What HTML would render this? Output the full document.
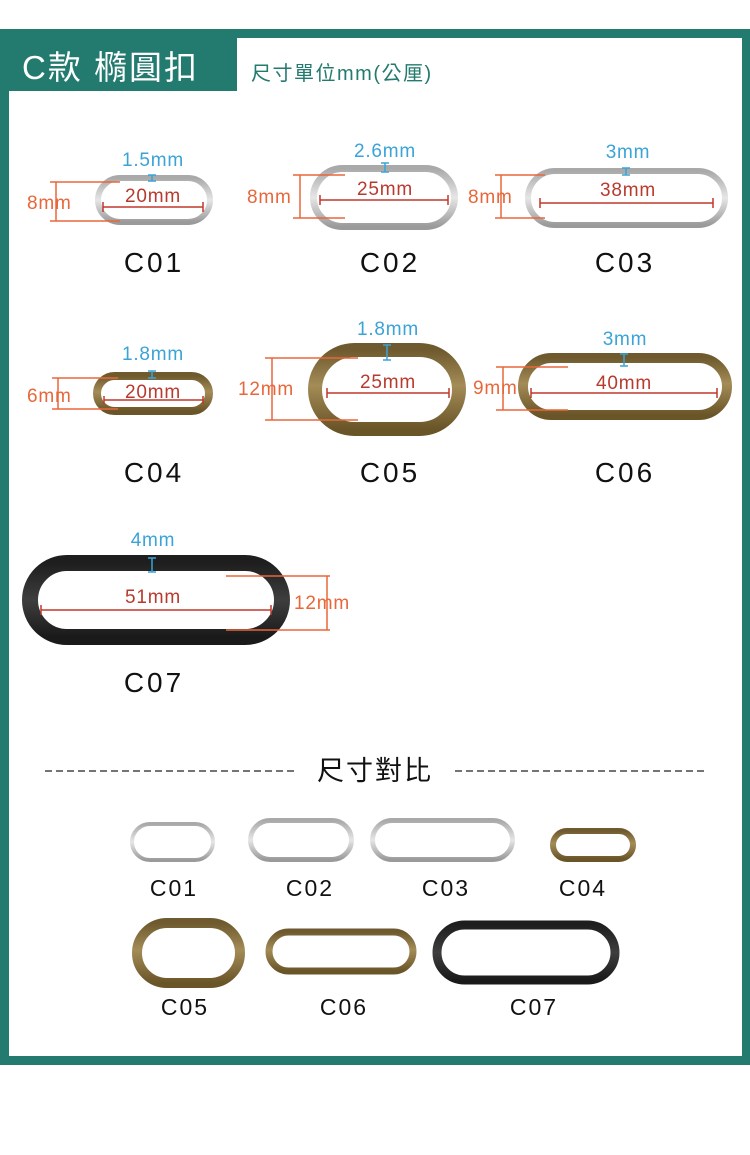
<!DOCTYPE html>
<html><head><meta charset="utf-8"><style>
body{margin:0;width:750px;height:1150px;background:#fff;overflow:hidden}
svg text{font-family:"Liberation Sans","Noto Sans CJK TC",sans-serif}
</style></head><body>
<svg width="750" height="1150" viewBox="0 0 750 1150" xmlns="http://www.w3.org/2000/svg">
<defs>
<linearGradient id="sv" x1="0" y1="0" x2="0" y2="1"><stop offset="0" stop-color="#a9a9a9"/><stop offset=".5" stop-color="#e6e6e6"/><stop offset="1" stop-color="#9a9a9a"/></linearGradient>
<linearGradient id="br" x1="0" y1="0" x2="0" y2="1"><stop offset="0" stop-color="#6e5a2e"/><stop offset=".45" stop-color="#a48c57"/><stop offset="1" stop-color="#6a5528"/></linearGradient>
<linearGradient id="dk" x1="0" y1="0" x2="0" y2="1"><stop offset="0" stop-color="#1e1e1e"/><stop offset=".5" stop-color="#3e3e3e"/><stop offset="1" stop-color="#1a1a1a"/></linearGradient>
</defs>
<rect x="0" y="29" width="750" height="1036" fill="#237a6e"/>
<rect x="9" y="38" width="733" height="1018" fill="#fff"/>
<rect x="0" y="29" width="237" height="62" fill="#237a6e"/>
<text x="22" y="79" font-size="33" fill="#fff" letter-spacing="2">C款 橢圓扣</text>
<text x="251" y="80" font-size="20" fill="#237a6e" letter-spacing="1.5">尺寸單位mm(公厘)</text>

<g fill="none">
<rect x="98" y="178" width="112" height="44" rx="22" stroke="url(#sv)" stroke-width="6"/>
<rect x="313.5" y="168.5" width="141" height="58" rx="29" stroke="url(#sv)" stroke-width="7"/>
<rect x="528" y="171" width="197" height="54" rx="27" stroke="url(#sv)" stroke-width="6"/>
<rect x="97" y="376" width="112" height="35" rx="17.5" stroke="url(#br)" stroke-width="8"/>
<rect x="315" y="350" width="144" height="79" rx="39.5" stroke="url(#br)" stroke-width="14"/>
<rect x="523" y="358" width="204" height="57" rx="28.5" stroke="url(#br)" stroke-width="10"/>
<rect x="30" y="563" width="252" height="74" rx="37" stroke="url(#dk)" stroke-width="16"/>
<rect x="132" y="824" width="81" height="36" rx="18" stroke="url(#sv)" stroke-width="4"/>
<rect x="250.5" y="820.5" width="101" height="39" rx="19.5" stroke="url(#sv)" stroke-width="5"/>
<rect x="372.5" y="820.5" width="140" height="39" rx="19.5" stroke="url(#sv)" stroke-width="5"/>
<rect x="553" y="831" width="80" height="28" rx="14" stroke="url(#br)" stroke-width="6"/>
<rect x="137" y="923" width="103" height="60" rx="30" stroke="url(#br)" stroke-width="10"/>
<rect x="269" y="932" width="144" height="39" rx="19.5" stroke="url(#br)" stroke-width="7"/>
<rect x="437" y="925" width="178" height="55" rx="27.5" stroke="url(#dk)" stroke-width="9"/>
</g>

<g stroke-width="1.5" fill="none">
<g stroke="#e8673a">
<path d="M50 182H120M50 221H120M56 182V221"/>
<path d="M293 175H345M293 218H345M300 175V218"/>
<path d="M495 175H545M495 218H545M501 175V218"/>
<path d="M52 378H118M52 409H118M58 378V409"/>
<path d="M265 358H358M265 420H358M272 358V420"/>
<path d="M496 367H568M496 410H568M503 367V410"/>
<path d="M226 576H330M226 630H330M327 576V630"/>
</g>
<g stroke="#c0392b">
<path d="M103 207H203M103 202V212M203 202V212"/>
<path d="M320 200H448M320 195V205M448 195V205"/>
<path d="M540 203H713M540 198V208M713 198V208"/>
<path d="M104 400H203M104 396V404M203 396V404"/>
<path d="M327 393H449M327 388V398M449 388V398"/>
<path d="M531 393H717M531 388V398M717 388V398"/>
<path d="M41 610H271M41 605V615M271 605V615"/>
</g>
<g stroke="#3aa3d8">
<path d="M152 175V181M148 175H156M148 181H156"/>
<path d="M385 163V172M381 163H389M381 172H389"/>
<path d="M626 168V175M622 168H630M622 175H630"/>
<path d="M152 371V378M148 371H156M148 378H156"/>
<path d="M387 345V360M383 345H391M383 360H391"/>
<path d="M624 354V366M620 354H628M620 366H628"/>
<path d="M152 558V572M148 558H156M148 572H156"/>
</g>
</g>
<g font-size="19" letter-spacing="0.8">
<g fill="#3aa3d8" text-anchor="middle">
<text x="153" y="166">1.5mm</text><text x="385" y="157">2.6mm</text><text x="628" y="158">3mm</text>
<text x="153" y="360">1.8mm</text><text x="388" y="335">1.8mm</text><text x="625" y="345">3mm</text>
<text x="153" y="546">4mm</text>
</g>
<g fill="#e8673a">
<text x="27" y="209">8mm</text><text x="247" y="203">8mm</text><text x="468" y="203">8mm</text>
<text x="27" y="402">6mm</text><text x="238" y="395">12mm</text><text x="473" y="394">9mm</text>
<text x="294" y="609">12mm</text>
</g>
<g fill="#b83a2e" text-anchor="middle">
<text x="153" y="202">20mm</text><text x="385" y="195">25mm</text><text x="628" y="196">38mm</text>
<text x="153" y="398">20mm</text><text x="388" y="388">25mm</text><text x="624" y="389">40mm</text>
<text x="153" y="603">51mm</text>
</g>
</g>
<g font-size="28" fill="#111" text-anchor="middle" letter-spacing="3">
<text x="154" y="272">C01</text><text x="390" y="272">C02</text><text x="625" y="272">C03</text>
<text x="154" y="482">C04</text><text x="390" y="482">C05</text><text x="625" y="482">C06</text>
<text x="154" y="692">C07</text>
</g>
<path d="M45 771H297M455 771H707" stroke="#222" stroke-width="1.2" stroke-dasharray="7,4"/>
<text x="375" y="780" font-size="27" fill="#111" text-anchor="middle" letter-spacing="2">尺寸對比</text>
<g font-size="23" fill="#111" text-anchor="middle" letter-spacing="2">
<text x="174" y="896">C01</text><text x="310" y="896">C02</text><text x="446" y="896">C03</text><text x="583" y="896">C04</text>
<text x="185" y="1015">C05</text><text x="344" y="1015">C06</text><text x="534" y="1015">C07</text>
</g>
</svg>
</body></html>
